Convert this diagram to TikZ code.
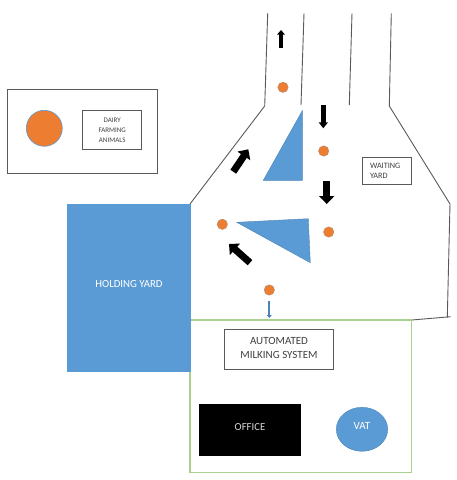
\documentclass[tikz,border=0pt]{standalone}
\usepackage{fontspec}
\setmainfont{Carlito}
\usetikzlibrary{arrows.meta,shapes.geometric}
\definecolor{yardblue}{HTML}{5B9BD5}
\definecolor{dairyorange}{HTML}{ED7D31}
\definecolor{shedgreen}{HTML}{A9D18E}
\definecolor{wallgray}{HTML}{595959}
\definecolor{labelgray}{HTML}{404040}
\tikzset{
  wall/.style={draw=wallgray,line width=0.9pt},
  labelbox/.style={draw=wallgray,line width=1pt,fill=white,text=labelgray,align=center,inner sep=0pt},
  bluefill/.style={fill=yardblue,draw=yardblue!85!black,line width=0.4pt},
  animal/.style={circle,fill=dairyorange,draw=yardblue!50!dairyorange,line width=0.3pt,minimum size=10.5pt,inner sep=0pt},
  smallarrow/.style={draw=black,line width=3.6pt,-{Triangle[length=4.5pt,width=7.5pt]}},
  midarrow/.style={draw=black,line width=4.6pt,-{Triangle[length=6pt,width=9pt]}},
  bigarrow/.style={draw=black,line width=7pt,-{Triangle[length=8pt,width=15pt]}},
  bluearrow/.style={draw=yardblue!85!black,line width=2.2pt,-{Triangle[length=3pt,width=5pt]}},
}

\begin{document}
\begin{tikzpicture}[x=1pt,y=-1pt]
  \useasboundingbox (0,0) rectangle (457,480);
  % lanes and yard walls
  \coordinate (w1) at (267.7,13.3);
  \coordinate (w2) at (264.7,106);
  \coordinate (w3) at (190,204);
  \coordinate (w4) at (391.3,13.3);
  \coordinate (w5) at (389.3,106);
  \coordinate (w6) at (450,204);
  \coordinate (w7) at (447.3,317.5);
  \coordinate (w8) at (450.7,316.7);
  \coordinate (w9) at (411.7,320);
  \coordinate (l1) at (304,13.3);
  \coordinate (l2) at (301,105);
  \coordinate (l3) at (352,13.3);
  \coordinate (l4) at (349.3,105);
  \draw[wall] (w1) -- (w2) -- (w3);
  \draw[wall] (w4) -- (w5) -- (w6) -- (w7);
  \draw[wall] (w8) -- (w9);
  \draw[wall] (l1) -- (l2);
  \draw[wall] (l3) -- (l4);
  % islands
  \draw[bluefill] (302.3,110.7) -- (263.3,180.3) -- (302.3,180.3) -- cycle;
  \draw[bluefill] (236.7,222.3) -- (308.3,218.7) -- (310.3,262.7) -- cycle;
  % buildings
  \node[draw=shedgreen,line width=1.2pt,minimum width=221.7pt,minimum height=152.3pt,inner sep=0pt] (shed) at (300.85,396.15) {};
  \node[fill=yardblue,text=white,minimum width=124pt,minimum height=168.5pt,inner sep=0pt,font=\fontsize{10.8}{12}\selectfont] (holding) at (129,288.2) {\raisebox{8pt}{HOLDING YARD}};
  \node[labelbox,minimum width=109.4pt,minimum height=40.3pt,font=\fontsize{11}{14}\selectfont] (milking) at (279,349.2) {AUTOMATED\\MILKING SYSTEM\rule[-3pt]{0pt}{0pt}};
  \node[fill=black,text=white!85!black,minimum width=101.4pt,minimum height=51.7pt,inner sep=0pt,font=\fontsize{10.7}{12}\selectfont] (office) at (250,430.2) {\raisebox{6.5pt}{OFFICE}};
  \node[ellipse,bluefill,text=white,minimum width=51.4pt,minimum height=44pt,inner sep=0pt,font=\fontsize{11}{12}\selectfont] (vat) at (362,429.3) {\raisebox{7.5pt}{VAT}};
  \node[labelbox,minimum width=49pt,minimum height=26.6pt,align=left,font=\fontsize{8.2}{10}\selectfont] (waiting) at (387.2,171) {WAITING\hspace*{4pt}\\YARD};
  % legend
  \node[draw=wallgray,line width=1pt,minimum width=149.7pt,minimum height=84.4pt,inner sep=0pt] (legend) at (82.15,131.5) {};
  \node[animal,minimum size=36pt,draw=yardblue,line width=0.6pt] (legenddot) at (44.3,128.3) {};
  \node[labelbox,minimum width=59pt,minimum height=39.4pt,font=\fontsize{7}{9.8}\selectfont] (dairy) at (112.2,130) {DAIRY\\FARMING\\ANIMALS};
  % animals
  \node[animal] (a1) at (283,87.3) {};
  \node[animal] (a2) at (323.7,151) {};
  \node[animal] (a3) at (328.7,232) {};
  \node[animal] (a4) at (222.3,224.3) {};
  \node[animal] (a5) at (269.3,290) {};
  % direction arrows
  \coordinate (s1) at (281,47.7);
  \coordinate (e1) at (281,30);
  \coordinate (s2) at (323.3,105.3);
  \coordinate (e2) at (323.3,128.3);
  \coordinate (s3) at (326.7,181);
  \coordinate (e3) at (326.7,204);
  \coordinate (s4) at (250,262.7);
  \coordinate (e4) at (229,244);
  \coordinate (s5) at (233.3,171.7);
  \coordinate (e5) at (248.3,149.3);
  \coordinate (s6) at (269.3,301.3);
  \coordinate (e6) at (269.3,318);
  \draw[smallarrow] (s1) -- (e1);
  \draw[midarrow] (s2) -- (e2);
  \draw[bigarrow] (s3) -- (e3);
  \draw[bigarrow] (s4) -- (e4);
  \draw[bigarrow] (s5) -- (e5);
  \draw[bluearrow] (s6) -- (e6);
\end{tikzpicture}
\end{document}
